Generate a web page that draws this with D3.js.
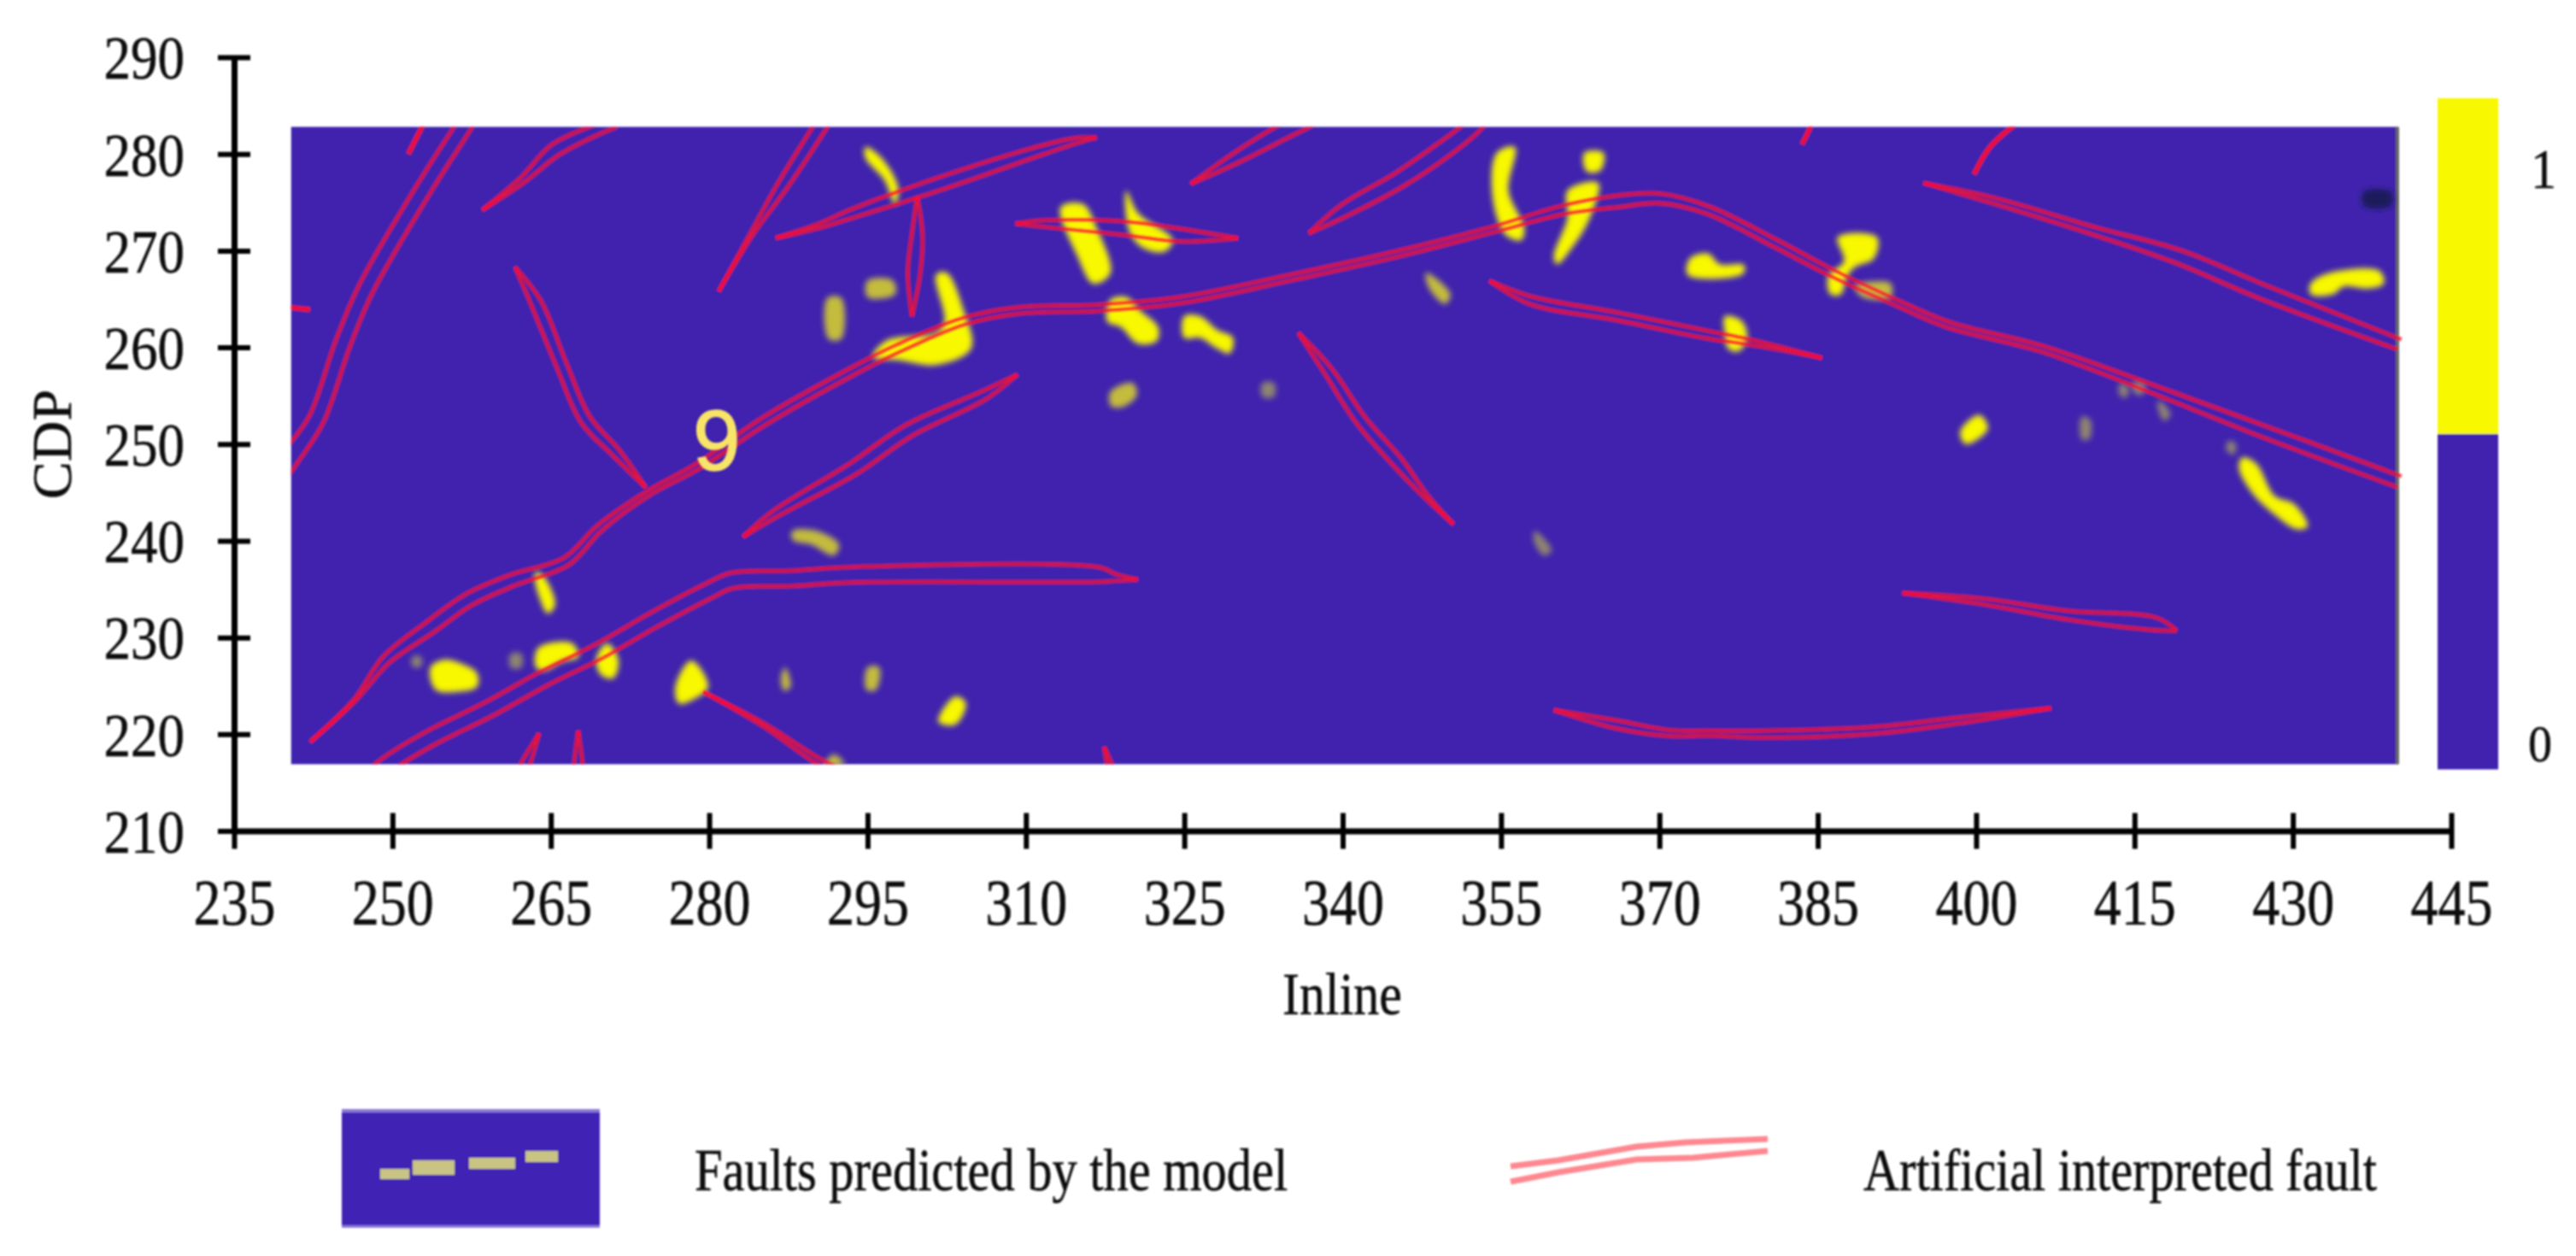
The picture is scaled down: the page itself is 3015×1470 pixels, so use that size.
<!DOCTYPE html>
<html lang="en">

<head>
  <meta charset="UTF-8">
  <title>Faults predicted by the model</title>
  <style>
    body { margin: 0; background: #fff; }
    svg { display: block; }
    text { font-family: "Liberation Serif", serif; fill: #111; stroke: #111; stroke-width: 0.5px; }
  </style>
</head>

<body>

  <script src="https://cdn.jsdelivr.net/npm/d3@7"></script>
  <script>
    var width = 3015;
    var height = 1470;

    // axes
    var inlineTicks = [235, 250, 265, 280, 295, 310, 325, 340, 355, 370, 385, 400, 415, 430, 445];
    var cdpTicks = [210, 220, 230, 240, 250, 260, 270, 280, 290];

    // extent of the map
    var mapInline = [240.4, 439.9];
    var mapCdp = [216.9, 282.8];

    // colour bar
    var barStops = [0, 0.5, 1];
    var barLabels = ["0", "1"];

    // interpreted faults: inline, cdp, half opening of the double line (in cdp)
    var fault1 = [[239.4, 247, .8], [240.4, 248.7, .9], [242.8, 252.6, .8], [245.3, 260.4, .8], [247.5, 266.1, .8], [253.3, 277, .8], [256.7, 282.8, .8], [257.7, 284.6, .8]];
    var fault2 = [[251.5, 280, .05], [252.8, 282.8, .05], [253.3, 283.8, .05]];
    var fault3 = [[258.5, 274.2, 0], [262.3, 277.3, .3], [265.4, 280.4, .65], [269.1, 282.4, .55], [271.1, 283.2, .45]];
    var fault4 = [[280.9, 265.8, 0], [284, 271.7, .15], [287.1, 277, .55], [290.5, 282.8, .65], [291.5, 284.6, .65]];
    var fault5 = [[239.6, 264.2, .05], [242.2, 263.9, .05]];
    var fault6 = [[261.6, 268.3, 0], [263.6, 264.6, .55], [266, 258.2, .55], [268.3, 252.5, .55], [271.1, 249.2, .45], [274, 245.5, 0]];
    var fault7 = [[242.2, 219.2, 0], [246.4, 223.5, .1], [249.4, 227.7, .45], [253.6, 231.1, .65], [257.2, 233.9, .65], [261.3, 235.9, .6], [266.5, 237.9, .45], [269.6, 241.3, .35], [274.2, 244.9, .25], [278.9, 247.7, .3], [285.1, 252.3, .4], [293.7, 257.6, .4], [297.9, 259.9, .4], [304.1, 262.7, .35], [309.2, 263.8, .33], [317, 264.1, .33], [324.7, 264.9, .33], [335, 267.2, .3], [345.3, 269.7, .3], [354.6, 272.3, .3], [360.8, 274.2, .45], [366, 275.1, .6], [370.1, 275.4, .5], [374.6, 274.2, .4], [380.9, 270.8, .4], [386.7, 267.5, .35], [391.9, 264.9, .3], [397.2, 262.4, .3], [406.1, 259.9, .3], [415.5, 256.2, .4], [427, 251.4, .6], [440.1, 246.1, .6]];
    var fault8 = [[283.2, 240.4, 0], [286.1, 242.7, .35], [293.7, 247.5, .65], [298.9, 251.4, .65], [306.1, 255.1, .45], [309.2, 257.2, 0]];
    var fault9 = [[248.4, 215.9, .8], [249.4, 216.8, .8], [253.6, 219.6, .8], [259.3, 222.7, .8], [264.4, 225.8, .8], [269.6, 228.6, .8], [274.7, 231.8, .8], [279.9, 234.8, .8], [282.2, 235.9, .8], [287.6, 236.1, .8], [293.7, 236.5, .8], [317, 236.5, .75], [318.5, 236.2, .35], [320.6, 236, 0]];
    var fault10 = [[279.4, 224.4, 0], [285.1, 221, .15], [290.2, 217.3, .3], [292.3, 216.2, .3]];
    var fault11 = [[263.9, 220.1, 0], [262.6, 216.9, .45], [262.2, 215.9, .45]];
    var fault12 = [[267.6, 220.4, 0], [267.6, 216.9, .45], [267.6, 215.9, .5]];
    var fault13 = [[286.3, 271.3, 0], [290.2, 272.5, .2], [293.7, 273.9, .45], [301.5, 276.8, .65], [309.2, 279.6, .55], [314.4, 281.3, .3], [316.7, 281.7, 0]];
    var fault14 = [[299.7, 275.6, 0], [299.7, 271.7, .55], [299.4, 267.7, .65], [299.2, 263.2, 0]];
    var fault15 = [[309, 272.8, 0], [311.8, 272.8, .35], [319.5, 272.3, .7], [324.7, 271.6, .65], [330.1, 271.3, 0]];
    var fault16 = [[325.6, 276.9, 0], [329.9, 279.6, .55], [334.5, 282.4, .8], [337.1, 283.8, .8]];
    var fault17 = [[336.8, 271.8, 0], [340.2, 274.2, .65], [345.3, 277.3, .8], [349.5, 280.4, .85], [352.3, 282.8, .8], [353.6, 284.4, .8]];
    var fault18 = [[335.8, 261.5, 0], [338.6, 257.6, .45], [341.7, 252.5, .55], [345.3, 248, .55], [347.9, 244.6, .2], [350.5, 241.7, 0]];
    var fault19 = [[353.9, 266.9, 0], [357.7, 264.9, .4], [366, 263.2, .4], [374.6, 261.3, .4], [377.8, 260.7, .3], [381.4, 259.9, .15], [385.4, 258.9, 0]];
    var fault20 = [[317.4, 218.7, 0], [317.9, 216.9, .25], [318.1, 215.9, .25]];
    var fault21 = [[360, 222.5, 0], [366, 221, .4], [371.1, 220.1, .3], [374.6, 220.1, .25], [379.9, 220, .35], [390.3, 220.4, .35], [398.2, 221.4, .3], [407.1, 222.7, 0]];
    var fault22 = [[383.5, 281, .05], [384.3, 282.8, .05], [384.6, 283.8, .05]];
    var fault23 = [[399.8, 277.9, .05], [401.3, 280.7, .05], [403.4, 282.8, .05], [404.7, 283.8, .05]];
    var fault24 = [[395, 277, 0], [401.9, 275.1, .3], [411.3, 272, .4], [419.1, 269.4, .7], [427, 265.8, .75], [440.1, 260.3, .55]];
    var fault25 = [[393, 234.6, 0], [400.8, 233.7, .3], [408.7, 232.3, .45], [417, 231.4, .65], [419, 230.7, 0]];
    var faults = [fault1, fault2, fault3, fault4, fault5, fault6, fault7, fault8, fault9, fault10, fault11, fault12, fault13,
      fault14, fault15, fault16, fault17, fault18, fault19, fault20, fault21, fault22, fault23, fault24, fault25];

    // predicted faults, strong response
    var predictedStrong = [
      [[263.6, 236.8], [264.4, 236.2], [265.4, 233.4], [264.7, 232.5], [263.9, 234.2], [263.5, 235.9]],
      [[253.6, 226.9], [254.9, 227.7], [256.7, 227.2], [258, 226.3], [258, 224.9], [256.2, 224.4], [254.1, 224.6]],
      [[263.8, 228.9], [267, 229.4], [267.6, 228], [266, 227.5], [264.4, 226.6], [263.6, 226.9]],
      [[270.3, 229.4], [271.4, 227.7], [270.9, 225.8], [269.8, 226.1], [269.3, 227.7]],
      [[278.3, 227.6], [279.9, 224.9], [278.3, 223.5], [277.1, 223.2], [276.8, 224.9]],
      [[294.8, 280.7], [296.3, 279.6], [297.9, 276.5], [297.6, 274.8], [296.6, 277.3], [294.8, 279.6]],
      [[301.5, 267.5], [302.5, 267.7], [304.1, 263.8], [304.8, 259.9], [301.5, 258.2], [297.9, 258.7], [295.5, 259], [296.8, 260.7], [301.5, 261.5], [302.3, 262.7]],
      [[313.3, 274.5], [315.4, 274.8], [316.7, 272.3], [318, 267.7], [316.4, 266.6], [314.9, 269.4]],
      [[319.5, 276.2], [320.6, 273.9], [323.9, 271.1], [323.1, 269.9], [321.1, 270.3], [319.8, 272]],
      [[318, 264.9], [319.5, 265.2], [320.8, 263.8], [322.5, 262.1], [322.4, 260.7], [320.6, 260.4], [319, 262.1], [317.7, 262.7]],
      [[325, 263.2], [326.5, 263.2], [328.1, 261.8], [329.6, 261], [329.3, 259.4], [328.1, 259.9], [326.5, 261], [325, 261]],
      [[354.6, 280.1], [356.3, 280.7], [355.7, 276.2], [357.2, 272.3], [356.9, 271.1], [355.4, 271.7], [354.2, 275.6]],
      [[362.9, 280.1], [364.7, 280.1], [364.4, 278.3], [363.1, 278.2]],
      [[361.3, 276.2], [364.2, 277], [363.4, 273.4], [361.9, 270.6], [360.3, 268.6], [360, 269.4], [361.3, 273.4]],
      [[372.9, 269.2], [374.6, 269.7], [375.7, 268.6], [378, 268.5], [377.9, 267.6], [372.7, 267.5]],
      [[303.3, 223.9], [304.3, 223.2], [303.3, 221], [301.7, 221.3]],
      [[386.9, 271.4], [390.6, 271.4], [390.3, 269.2], [388.5, 268.3], [387.7, 267.2], [387.2, 265.5], [386.2, 265.5], [386, 267.4], [387.5, 268.9]],
      [[376.2, 263.2], [377.8, 262.7], [378.3, 261], [377.5, 259.6], [376.5, 259.9], [376.2, 261.5]],
      [[431.7, 266.6], [433.5, 267.7], [438.2, 267.9], [438.6, 266.6], [437.2, 266.1], [434.8, 266.3], [433.8, 265.5], [431.7, 265.5]],
      [[398.5, 251.3], [400.3, 253], [401.1, 251.6], [399, 250]],
      [[425.2, 248.6], [426.5, 248], [428.3, 244.6], [430.1, 243.8], [431.4, 241.5], [430.4, 241.2], [428.3, 242.7], [426.2, 244.9], [424.9, 247.5]]
    ];

    // predicted faults, medium response
    var predictedMedium = [
      [[291.2, 265.1], [292.5, 265.1], [292.5, 260.9], [291.3, 260.9]],
      [[287.9, 241], [290.2, 241], [292.3, 239.6], [291.8, 238.5], [289.7, 239.6], [287.9, 240.1]],
      [[291.8, 217.9], [292.8, 216.9], [291, 216.9]],
      [[295, 266.9], [297.4, 266.9], [297.6, 265.5], [295, 265.2]],
      [[318, 255.4], [320.1, 256.3], [320.5, 255.1], [319.3, 253.9], [318.1, 253.9]],
      [[347.9, 267.7], [350.2, 265.5], [349.7, 264.5], [348.2, 266.1]],
      [[295, 226.9], [296.1, 226.9], [295.8, 224.6], [294.9, 224.6]],
      [[287.2, 226.9], [287.7, 224.9], [287.1, 224.5], [286.8, 225.8]],
      [[388.5, 266.3], [390.3, 266.8], [391.9, 266.6], [391.9, 265.2], [389.3, 265.2]]
    ];

    // predicted faults, weak response
    var predictedWeak = [
      [[251.9, 228], [252.7, 228], [252.7, 227], [251.9, 227]],
      [[261.2, 228.3], [262.2, 228.3], [262.2, 226.9], [261.2, 226.9]],
      [[332.4, 256.3], [333.5, 256.3], [333.5, 254.9], [332.4, 254.9]],
      [[358.2, 241], [359.8, 239], [359, 238.5], [358.1, 240.1]],
      [[410, 252.8], [410.8, 252.5], [410.7, 250.5], [410, 250.5]],
      [[413.6, 256.2], [414.4, 255.9], [414.2, 254.8], [413.6, 255.1]],
      [[414.9, 256.4], [416, 256.2], [415.7, 255.1], [414.9, 255.4]],
      [[417.3, 254.5], [418.4, 253.1], [417.8, 252.4], [417.2, 253.9]],
      [[423.9, 250.3], [424.6, 250], [424.4, 248.9], [423.7, 249.4]]
    ];

    var darkSpot = [[[436.7, 276.1], [439.3, 276.1], [439.3, 274.6], [436.7, 274.6]]];

    // legend samples, 0-100 inside their own boxes
    var legendDashes = [[14.9, 26.2, 41, 49.6], [27.5, 43.7, 44.6, 56.8], [49.3, 67.2, 49.6, 59], [71.2, 83.8, 55.4, 64.7]];
    var legendFaultUpper = [[0, 36], [18.6, 50], [49, 82], [68, 92], [100, 100]];
    var legendFaultLower = [[0, 0], [18.6, 22], [49, 52], [71, 56], [100, 72]];

    var blue = "#4023ae";
    var yellow = "#f8f800";

    var x = d3.scaleLinear().domain([235, 445]).range([274, 2869]);
    var y = d3.scaleLinear().domain([210, 290]).range([972.5, 67]);
    var barY = d3.scaleLinear().domain([0, 1]).range([900.5, 115]);

    var svg = d3.select("body")
      .append("svg")
      .attr("width", width)
      .attr("height", height)
      .style("background", "#fff");

    var defs = svg.append("defs");
    defs.append("filter").attr("id", "blobby").append("feGaussianBlur").attr("stdDeviation", 3);
    defs.append("filter").attr("id", "soft").append("feGaussianBlur").attr("stdDeviation", 1.2);
    defs.append("filter").attr("id", "softer").append("feGaussianBlur").attr("stdDeviation", 0.8);
    defs.append("clipPath").attr("id", "map-clip").append("rect")
      .attr("x", x(mapInline[0]))
      .attr("y", y(mapCdp[1]))
      .attr("width", x(440.5) - x(mapInline[0]))
      .attr("height", y(mapCdp[0]) - y(mapCdp[1]));

    // map
    var map = svg.append("g").attr("filter", "url(#soft)");
    map.append("rect")
      .attr("x", x(mapInline[0]))
      .attr("y", y(mapCdp[1]))
      .attr("width", x(mapInline[1]) - x(mapInline[0]))
      .attr("height", y(mapCdp[0]) - y(mapCdp[1]))
      .attr("fill", blue);
    map.append("line")
      .attr("x1", x(mapInline[1])).attr("x2", x(mapInline[1]))
      .attr("y1", y(mapCdp[1])).attr("y2", y(mapCdp[0]))
      .attr("stroke", "#666").attr("stroke-width", 4);

    var blob = d3.line()
      .x(function (d) { return x(d[0]); })
      .y(function (d) { return y(d[1]); })
      .curve(d3.curveCatmullRomClosed.alpha(0.5));

    var marks = map.append("g").attr("clip-path", "url(#map-clip)");
    var blobs = marks.append("g").attr("filter", "url(#blobby)");

    function drawBlobs(list, color) {
      blobs.append("g").selectAll("path")
        .data(list)
        .enter()
        .append("path")
        .attr("d", blob)
        .attr("fill", color);
    }
    drawBlobs(predictedWeak, "#8f8470");
    drawBlobs(predictedMedium, "#c4bc3c");
    drawBlobs(predictedStrong, yellow);
    drawBlobs(darkSpot, "#1b1a5c");

    // each fault is a pair of lines either side of its centre
    function faultEdges(pts) {
      var px = pts.map(function (p) {
        return [x(p[0]), y(p[1]), Math.abs(y(0) - y(p[2]))];
      });
      var a = [], b = [];
      px.forEach(function (p, i) {
        var p0 = px[Math.max(i - 1, 0)], p1 = px[Math.min(i + 1, px.length - 1)];
        var dx = p1[0] - p0[0], dy = p1[1] - p0[1], len = Math.hypot(dx, dy);
        a.push([p[0] - dy / len * p[2], p[1] + dx / len * p[2]]);
        b.push([p[0] + dy / len * p[2], p[1] - dx / len * p[2]]);
      });
      return [a, b];
    }

    var edgeLine = d3.line().curve(d3.curveCatmullRom.alpha(0.5));
    marks.append("g").selectAll("g")
      .data(faults)
      .enter()
      .append("g")
      .selectAll("path")
      .data(faultEdges)
      .enter()
      .append("path")
      .attr("d", edgeLine)
      .attr("fill", "none")
      .attr("stroke", "#ff1030")
      .attr("stroke-opacity", 0.72)
      .attr("stroke-width", 5);

    // the "9" beside the main fault
    svg.append("text")
      .attr("x", x(280.7))
      .attr("y", y(247.3))
      .attr("text-anchor", "middle")
      .style("font-family", "'Liberation Sans', sans-serif")
      .style("font-size", "100px")
      .style("fill", "#f8e468")
      .style("stroke", "#f8e468")
      .style("stroke-width", "1.5px")
      .attr("filter", "url(#softer)")
      .text("9");

    // axes
    var axes = svg.append("g").attr("filter", "url(#softer)");

    var yAxis = axes.append("g")
      .attr("transform", "translate(" + x(235) + ",0)")
      .call(d3.axisLeft(y).tickValues(cdpTicks).tickSizeOuter(0));
    var xAxis = axes.append("g")
      .attr("transform", "translate(0," + y(210) + ")")
      .call(d3.axisBottom(x).tickValues(inlineTicks).tickSizeOuter(0));

    [xAxis, yAxis].forEach(function (axis) {
      axis.select(".domain").attr("stroke", "#000").attr("stroke-width", 7);
      axis.selectAll("line").attr("stroke", "#000").attr("stroke-width", 6);
    });
    yAxis.selectAll("line").attr("x1", 19).attr("x2", -19);
    xAxis.selectAll("line").attr("y1", -21).attr("y2", 21);

    yAxis.selectAll("text")
      .attr("x", -58).attr("y", 22).attr("dy", 0)
      .attr("transform", "scale(1,1.13)")
      .style("font-family", "'Liberation Serif', serif")
      .style("font-size", "63px")
      .style("fill", "#111");
    xAxis.selectAll("text")
      .attr("y", 92.8).attr("dy", 0)
      .attr("transform", "scale(1,1.18)")
      .style("font-family", "'Liberation Serif', serif")
      .style("font-size", "64px")
      .style("fill", "#111");

    // plain labels, slightly tall like the source lettering
    function label(text, px, py, size, stretch, anchor, rotate) {
      return svg.append("text")
        .attr("transform", "translate(" + px + "," + py + ")" + (rotate ? " rotate(-90)" : "") + " scale(1," + stretch + ")")
        .attr("text-anchor", anchor)
        .attr("filter", "url(#softer)")
        .style("font-size", size + "px")
        .text(text);
    }
    label("CDP", 83, 520, 66, 1.0, "middle", true);
    label("Inline", 1571, 1187, 60, 1.18, "middle");

    // colour bar
    var barColors = [blue, yellow];
    svg.append("g").attr("filter", "url(#softer)").selectAll("rect")
      .data(d3.pairs(barStops))
      .enter()
      .append("rect")
      .attr("x", 2853)
      .attr("width", 71)
      .attr("y", function (d) { return barY(d[1]); })
      .attr("height", function (d) { return barY(d[0]) - barY(d[1]); })
      .attr("fill", function (d, i) { return barColors[i]; });
    label(barLabels[0], 2973, 891, 56, 1.08, "middle");
    label(barLabels[1], 2977, 220, 60, 1.1, "middle");

    // legend
    var swatchX = d3.scaleLinear().domain([0, 100]).range([400, 702]);
    var swatchY = d3.scaleLinear().domain([0, 100]).range([1437, 1298]);
    var legendX = d3.scaleLinear().domain([0, 100]).range([1768, 2069]);
    var legendY = d3.scaleLinear().domain([0, 100]).range([1383, 1333]);

    var legend = svg.append("g").attr("filter", "url(#soft)");
    legend.append("rect")
      .attr("x", swatchX(0)).attr("y", swatchY(100))
      .attr("width", swatchX(100) - swatchX(0))
      .attr("height", swatchY(0) - swatchY(100))
      .attr("fill", "#3f20b4");
    legend.append("rect")
      .attr("x", swatchX(0)).attr("y", swatchY(100))
      .attr("width", swatchX(100) - swatchX(0))
      .attr("height", 4)
      .attr("fill", "#8a78d8");
    legend.append("rect")
      .attr("x", swatchX(0)).attr("y", swatchY(0) - 3)
      .attr("width", swatchX(100) - swatchX(0))
      .attr("height", 3)
      .attr("fill", "#8a78d8");
    legend.selectAll(".dash")
      .data(legendDashes)
      .enter()
      .append("rect")
      .attr("class", "dash")
      .attr("x", function (d) { return swatchX(d[0]); })
      .attr("width", function (d) { return swatchX(d[1]) - swatchX(d[0]); })
      .attr("y", function (d) { return swatchY(d[3]); })
      .attr("height", function (d) { return swatchY(d[2]) - swatchY(d[3]); })
      .attr("fill", "#c9c384");

    var legendLine = d3.line()
      .x(function (d) { return legendX(d[0]); })
      .y(function (d) { return legendY(d[1]); });
    legend.selectAll(".sample")
      .data([legendFaultUpper, legendFaultLower])
      .enter()
      .append("path")
      .attr("class", "sample")
      .attr("d", legendLine)
      .attr("fill", "none")
      .attr("stroke", "#ff8790")
      .attr("stroke-width", 7);

    label("Faults predicted by the model", 813, 1393, 58.4, 1.2, "start");
    label("Artificial interpreted fault", 2181, 1393, 58.2, 1.2, "start");
  </script>
</body>

</html>
